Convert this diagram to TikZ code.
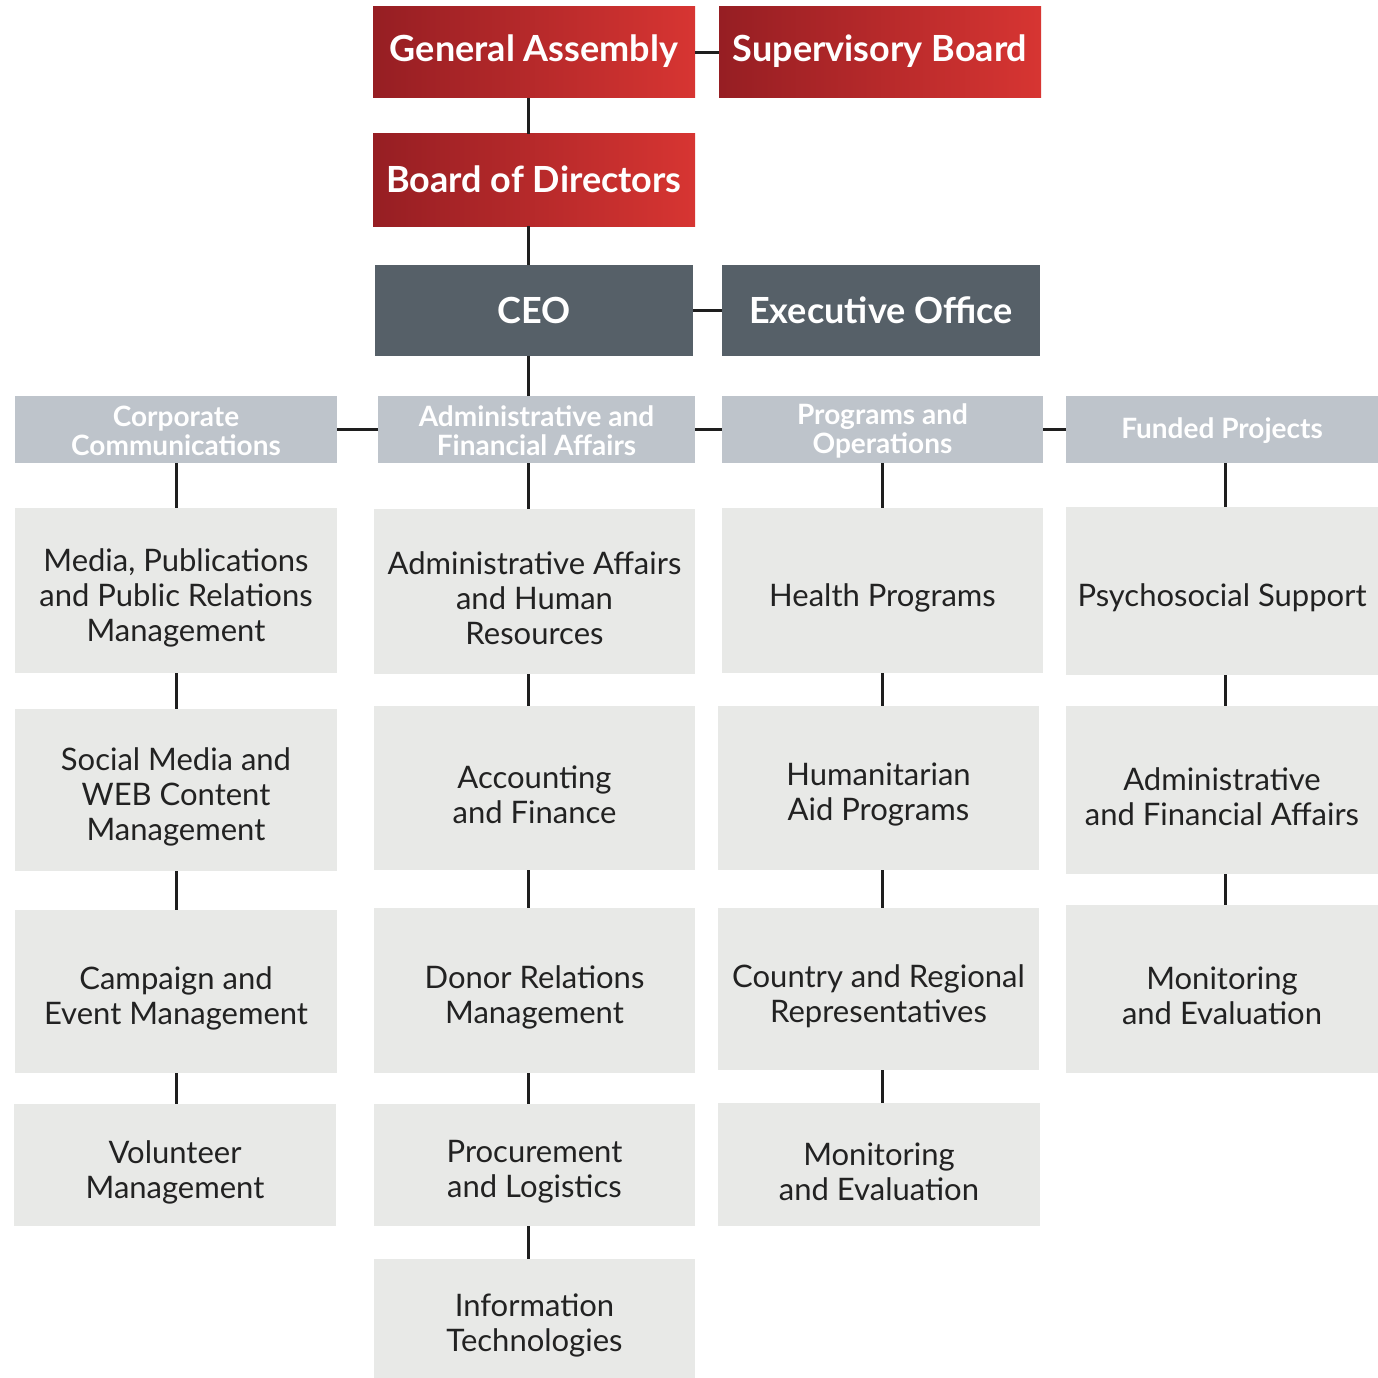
\documentclass[tikz,border=0pt]{standalone}
\usepackage{fontspec}
\setmainfont{Lato}
\usetikzlibrary{calc}
\definecolor{redL}{HTML}{961E23}
\definecolor{redR}{HTML}{D73532}
\definecolor{slate}{HTML}{566068}
\definecolor{hdr}{HTML}{BEC4CB}
\definecolor{cell}{HTML}{E8E9E7}
\definecolor{ink}{HTML}{222222}
\definecolor{linec}{HTML}{1E1E1E}
\newcommand\ob[7]{\node[#6, minimum width={(#4-#2)*1pt}, minimum height={(#5-#3)*1pt}] (#1) at ({(#2+#4)/2},{(#3+#5)/2}) {};
  \node[#6txt] at (#1.center) {#7};}
\tikzset{
  base/.style={inner sep=0pt, outer sep=0pt, align=center, rectangle},
  redbox/.style={base, left color=redL, right color=redR},
  redboxtxt/.style={base, text=white, font=\bfseries\fontsize{36}{40}\selectfont, yshift=1pt},
  slatebox/.style={base, fill=slate},
  slateboxtxt/.style={base, text=white, font=\bfseries\fontsize{36}{40}\selectfont},
  hdrbox/.style={base, fill=hdr},
  hdrboxtxt/.style={base, text=white, font=\bfseries\fontsize{28}{29}\selectfont, yshift=-1pt},
  cellbox/.style={base, fill=cell},
  cellboxtxt/.style={base, text=ink, font=\fontsize{31}{35}\selectfont, yshift=-7pt},
  conn/.style={draw=linec, line width=3pt},
}
\begin{document}
\begin{tikzpicture}[x=1pt,y=-1pt]
\useasboundingbox (0,0) rectangle (1378,1378);
% top
\ob{ga}{373}{7}{695}{98}{redbox}{General Assembly}
\ob{sb}{719}{7}{1041}{98}{redbox}{Supervisory Board}
\ob{bod}{373}{134}{695}{226}{redbox}{Board of Directors}
\ob{ceo}{375}{265}{693}{356}{slatebox}{CEO}
\ob{eo}{722}{265}{1040}{356}{slatebox}{Executive Office}
% headers
\ob{h1}{15}{396}{337}{463}{hdrbox}{Corporate\\Communications}
\ob{h2}{378}{396}{695}{463}{hdrbox}{Administrative and\\Financial Affairs}
\ob{h3}{722}{396}{1043}{463}{hdrbox}{Programs and\\Operations}
\ob{h4}{1066}{396}{1378}{463}{hdrbox}{Funded Projects}
% column 1
\ob{a1}{15}{508}{337}{673}{cellbox}{Media, Publications\\and Public Relations\\Management}
\ob{a2}{15}{709}{337}{871}{cellbox}{Social Media and\\WEB Content\\Management}
\ob{a3}{15}{910}{337}{1073}{cellbox}{Campaign and\\Event Management}
\ob{a4}{14}{1104}{336}{1226}{cellbox}{Volunteer\\Management}
% column 2
\ob{b1}{374}{509}{695}{674}{cellbox}{Administrative Affairs\\and Human\\Resources}
\ob{b2}{374}{706}{695}{870}{cellbox}{Accounting\\and Finance}
\ob{b3}{374}{908}{695}{1073}{cellbox}{Donor Relations\\Management}
\ob{b4}{374}{1104}{695}{1226}{cellbox}{Procurement\\and Logistics}
\ob{b5}{374}{1259}{695}{1378}{cellbox}{Information\\Technologies}
% column 3
\ob{c1}{722}{508}{1043}{673}{cellbox}{Health Programs}
\ob{c2}{718}{706}{1039}{870}{cellbox}{Humanitarian\\Aid Programs}
\ob{c3}{718}{908}{1039}{1070}{cellbox}{Country and Regional\\Representatives}
\ob{c4}{718}{1103}{1040}{1226}{cellbox}{Monitoring\\and Evaluation}
% column 4
\ob{d1}{1066}{507}{1378}{675}{cellbox}{Psychosocial Support}
\ob{d2}{1066}{706}{1378}{874}{cellbox}{Administrative\\and Financial Affairs}
\ob{d3}{1066}{905}{1378}{1073}{cellbox}{Monitoring\\and Evaluation}
% line columns
\coordinate (x1) at (176,0);
\coordinate (x2) at (528,0);
\coordinate (x3) at (882,0);
\coordinate (x4) at (1225,0);
% connectors
\draw[conn] (ga.south -| x2) -- (bod.north -| x2);
\draw[conn] (bod.south -| x2) -- (ceo.north -| x2);
\draw[conn] (ceo.south -| x2) -- (h2.north -| x2);
\draw[conn] (ga.east) -- (ga.east -| sb.west);
\draw[conn] (ceo.east) -- (ceo.east -| eo.west);
\draw[conn] (h1.east) -- (h1.east -| h2.west);
\draw[conn] (h2.east) -- (h2.east -| h3.west);
\draw[conn] (h3.east) -- (h3.east -| h4.west);
\foreach \u/\v in {h1/a1,a1/a2,a2/a3,a3/a4}{\draw[conn] (\u.south -| x1) -- (\v.north -| x1);}
\foreach \u/\v in {h2/b1,b1/b2,b2/b3,b3/b4,b4/b5}{\draw[conn] (\u.south -| x2) -- (\v.north -| x2);}
\foreach \u/\v in {h3/c1,c1/c2,c2/c3,c3/c4}{\draw[conn] (\u.south -| x3) -- (\v.north -| x3);}
\foreach \u/\v in {h4/d1,d1/d2,d2/d3}{\draw[conn] (\u.south -| x4) -- (\v.north -| x4);}
\end{tikzpicture}
\end{document}
